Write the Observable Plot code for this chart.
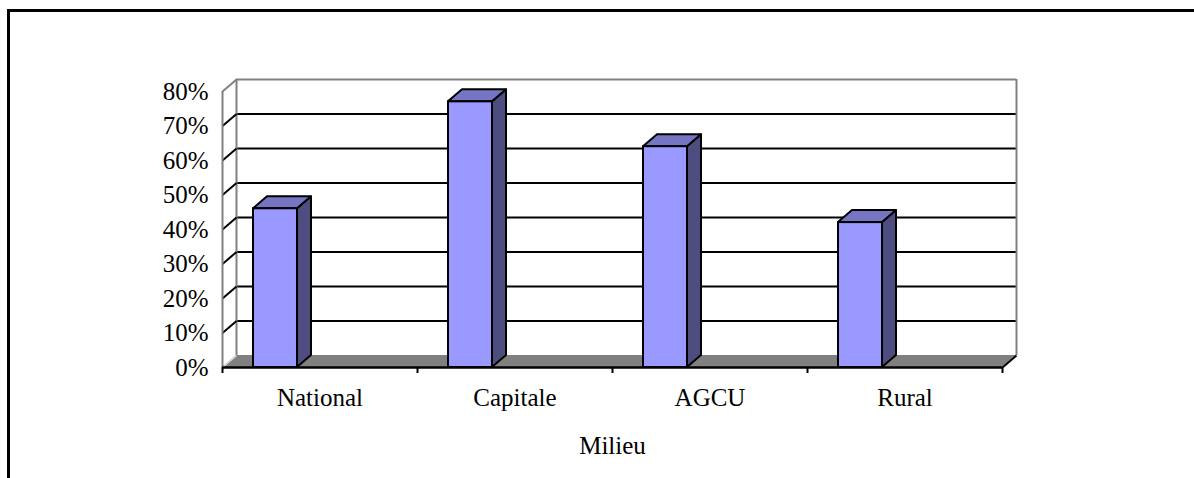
<!DOCTYPE html>
<html>
<head>
<meta charset="utf-8">
<script src="https://cdn.jsdelivr.net/npm/d3@7"></script>
<script src="https://cdn.jsdelivr.net/npm/@observablehq/plot@0.6"></script>
<style>
  html, body { margin: 0; padding: 0; background: #fff; overflow: hidden; }
  #wrap { position: relative; width: 1194px; height: 478px; }
  #frame { position: absolute; left: 7px; top: 9px; width: 1300px; height: 600px;
           border-left: 3px solid #000; border-top: 3px solid #000; }
  #chart { position: absolute; left: 0; top: 0; }
  #chart svg text { font-family: "Liberation Serif", "Times New Roman", serif; }
</style>
</head>
<body>
<div id="wrap"><div id="frame"></div><div id="chart"></div></div>
<script>
// ---- data ----
const categories = ["National", "Capitale", "AGCU", "Rural"];
const values = [0.46, 0.77, 0.64, 0.42];
const yTicks = [0, 0.1, 0.2, 0.3, 0.4, 0.5, 0.6, 0.7, 0.8];
const axisTitle = "Milieu";

// ---- geometry (style constants, in scale units) ----
const nCat = categories.length;
const yMax = 0.8;
const W = 1194, H = 478;
const mL = 222, mR = 192, mT = 91, mB = 111;
const pxPerX = (W - mL - mR) / nCat;        // px per category band
const pxPerY = (H - mT - mB) / yMax;        // px per unit
const dX = 14 / pxPerX;                      // depth offset (x)
const dY = 12 / pxPerY;                      // depth offset (y)
const barOff = 31 / pxPerX, barW = 44 / pxPerX;

const bars = categories.map((c, i) => ({cat: c, i, v: values[i], x1: i + barOff, x2: i + barOff + barW}));

const sidePts = bars.flatMap(b => [
  {cat: b.cat, x: b.x2, y1: 0, y2: b.v},
  {cat: b.cat, x: b.x2 + dX, y1: dY, y2: b.v + dY}
]);
const topPts = bars.flatMap(b => [
  {cat: b.cat, x: b.x1, y1: b.v, y2: b.v},
  {cat: b.cat, x: b.x1 + dX, y1: b.v, y2: b.v + dY},
  {cat: b.cat, x: b.x2, y1: b.v, y2: b.v + dY},
  {cat: b.cat, x: b.x2 + dX, y1: b.v + dY, y2: b.v + dY}
]);
const floorPts = [
  {x: 0, y1: 0, y2: 0},
  {x: dX, y1: 0, y2: dY},
  {x: nCat, y1: 0, y2: dY},
  {x: nCat + dX, y1: dY, y2: dY}
];
const gridInner = yTicks.filter(t => t > 0 && t < yMax);
const gray = "#808080";

const marks = [
  // back wall gridlines
  Plot.ruleY(gridInner, {y: t => t + dY, x1: dX, x2: nCat + dX, stroke: "#000", strokeWidth: 2}),
  Plot.ruleY([yMax], {y: t => t + dY, x1: dX, x2: nCat + dX, stroke: gray, strokeWidth: 2}),
  Plot.ruleX([dX, nCat + dX], {y1: dY, y2: yMax + dY, stroke: gray, strokeWidth: 2}),
  // floor
  Plot.area(floorPts, {x1: "x", y1: "y1", y2: "y2", fill: gray}),
  Plot.link([0], {x1: nCat, y1: 0, x2: nCat + dX, y2: dY, stroke: "#000", strokeWidth: 2}),
  Plot.link([0], {x1: 0, y1: 0, x2: dX, y2: dY, stroke: "#ddd", strokeWidth: 1.5}),
  // side wall
  Plot.link(gridInner, {x1: 0, y1: t => t, x2: dX, y2: t => t + dY, stroke: "#000", strokeWidth: 2}),
  Plot.link([yMax], {x1: 0, y1: t => t, x2: dX, y2: t => t + dY, stroke: gray, strokeWidth: 2}),
  Plot.ruleX([0], {y1: 0, y2: yMax, stroke: gray, strokeWidth: 2}),
  // category axis line + ticks
  Plot.ruleY([0], {x1: 0, x2: nCat, stroke: "#000", strokeWidth: 2.5}),
  Plot.axisX({ticks: d3.range(nCat + 1), tickSize: 6, tickFormat: () => "", strokeWidth: 2}),
  // bars
  Plot.area(sidePts, {x1: "x", y1: "y1", y2: "y2", z: "cat", fill: "#4d4d80", stroke: "#000", strokeWidth: 2, strokeLinejoin: "round"}),
  Plot.area(topPts, {x1: "x", y1: "y1", y2: "y2", z: "cat", fill: "#7575c4", stroke: "#000", strokeWidth: 2, strokeLinejoin: "round"}),
  Plot.rect(bars, {x1: "x1", x2: "x2", y1: 0, y2: "v", fill: "#9999ff", stroke: "#000", strokeWidth: 2}),
  // labels
  Plot.axisY({ticks: yTicks, tickSize: 0, tickPadding: 14, tickFormat: d3.format(".0%")}),
  Plot.text(categories, {x: (d, i) => i + 0.5, y: 0, dy: 30, text: d => d}),
  Plot.text([axisTitle], {x: nCat / 2, y: 0, dy: 78, text: d => d})
];

const chart = Plot.plot({
  width: W, height: H,
  marginLeft: mL, marginRight: mR, marginTop: mT, marginBottom: mB,
  x: {domain: [0, nCat], axis: null},
  y: {domain: [0, yMax], axis: null},
  style: {fontFamily: "Liberation Serif, Times New Roman, serif", fontSize: "25px", color: "#000", background: "transparent", overflow: "visible"},
  marks
});
document.getElementById("chart").appendChild(chart);
</script>
</body>
</html>
